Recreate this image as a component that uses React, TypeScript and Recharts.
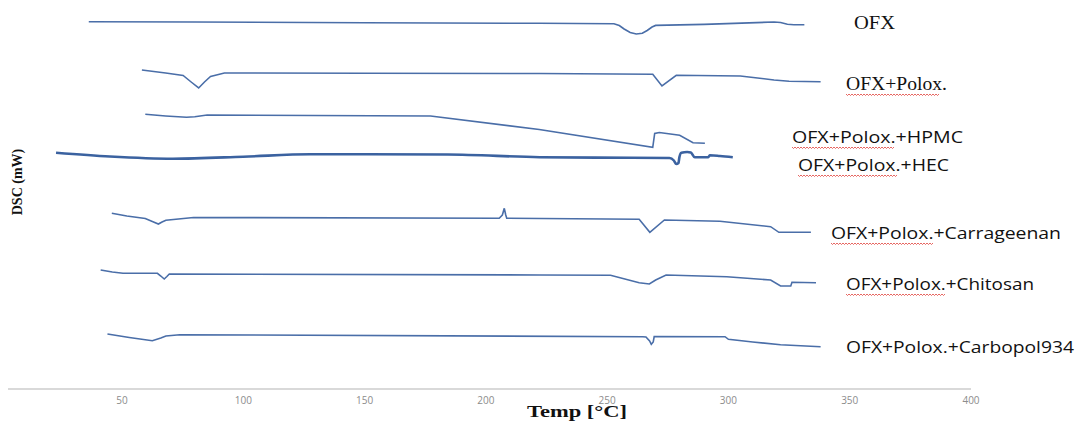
import { LineChart, Line, XAxis, YAxis, Customized } from 'recharts'

// temperature ticks on the x axis
const TEMP_TICKS = [50, 100, 150, 200, 250, 300, 350, 400]

// [temp °C, offset signal], top to bottom
const OFX = [
  [36.3, 367.3], [80, 367], [150, 366.3], [222, 365.7], [252.8, 365.2], [255, 363.5],
  [257, 360], [259.5, 356.5], [262, 355], [264.5, 355.8], [266.5, 358.5], [268.5, 362],
  [270, 363.6], [290, 364.6], [318.8, 367], [321.5, 366.5], [324.3, 364.8], [327, 364.3],
  [331.3, 364.3],
]
const OFX_POLOX = [
  [58.2, 319], [68, 316], [75.2, 313.5], [78.5, 307], [81.6, 301], [84, 307], [86.5, 312.5],
  [92.2, 316], [150, 315.8], [222, 315.5], [268.8, 314.8], [272.6, 303], [278.5, 313.7],
  [304.9, 313], [312, 311], [318.8, 309], [325, 307.8], [338, 307.2],
]
const OFX_HPMC = [
  [59.6, 274.7], [68, 273], [76.6, 271.7], [80, 272.3], [85.1, 274], [177.2, 273],
  [222, 259.5], [268.8, 241.7], [269.6, 255.5], [271.5, 256.5], [279.9, 253.7],
  [285.4, 246.3], [290.3, 245.7],
]
const OFX_HEC = [
  [22.8, 236.3], [45, 232.5], [71, 230.3], [100, 232.3], [127.6, 234.8], [184.3, 234.5],
  [222.2, 231.8], [260, 231.2], [275.7, 231], [277.5, 228.5], [278.5, 225], [279.4, 226],
  [279.8, 232], [280.6, 236.3], [283, 237], [284.5, 236.5], [286.1, 231.7], [291.7, 231.7],
  [292.3, 233.7], [296.5, 233], [301.8, 231.7],
]
const OFX_CARRAGEENAN = [
  [45.8, 175.7], [52, 173], [59.6, 170.5], [62.5, 167.5], [65, 165], [66.5, 167],
  [68.1, 168.8], [79.5, 171.5], [205.5, 170.7], [206.8, 174], [207.6, 180.7], [208.2, 174],
  [208.6, 170.7], [263.2, 169.7], [267.6, 156.7], [273.6, 169], [296.5, 167.7],
  [317.4, 162.3], [320.8, 156.7], [334, 156.7],
]
const OFX_CHITOSAN = [
  [41.2, 119], [46, 117], [50.4, 115.7], [64.6, 115.7], [66, 113], [67.4, 110], [68.5, 112.5],
  [69.5, 115], [222.2, 114], [251.4, 113.7], [263.2, 106.3], [267.4, 105], [270, 109],
  [274.3, 114], [299.3, 112.3], [317.4, 109], [321.5, 103], [325.7, 103], [326.2, 106.7],
  [336.1, 106.3],
]
const OFX_CARBOPOL = [
  [44, 55], [53, 51.5], [62.5, 48.3], [66, 51], [68.1, 53], [73.8, 54.3], [264.6, 52.3],
  [266, 52], [267.5, 48], [268.2, 44.7], [269, 47], [269.4, 52.5], [298.6, 52.3],
  [300, 49.7], [310, 47], [321.5, 44.3], [338, 42.3],
]

const SERIES_NAMES = [
  'OFX',
  'OFX+Polox.',
  'OFX+Polox.+HPMC',
  'OFX+Polox.+HEC',
  'OFX+Polox.+Carrageenan',
  'OFX+Polox.+Chitosan',
  'OFX+Polox.+Carbopol934',
]
const SERIES_DATA = [OFX, OFX_POLOX, OFX_HPMC, OFX_HEC, OFX_CARRAGEENAN, OFX_CHITOSAN, OFX_CARBOPOL]

const LINE = '#4a6ea8'

// where each curve's name sits on the right (px), and the red spell-check squiggle width
const LABEL_LAYOUT = [
  { x: 854, y: 29, w: 41, serif: true, wave: 0 },
  { x: 846, y: 90, w: 101, serif: true, wave: 92 },
  { x: 792, y: 143, w: 171, serif: false, wave: 100 },
  { x: 798, y: 171, w: 151, serif: false, wave: 99 },
  { x: 831, y: 239, w: 230, serif: false, wave: 100 },
  { x: 846, y: 290, w: 188, serif: false, wave: 99 },
  { x: 846, y: 353, w: 228, serif: false, wave: 0 },
]

function wavePath(x: number, y: number, w: number) {
  let d = `M${x},${y}`
  for (let i = 0; i < w; i += 3) d += ` L${x + i + 1.5},${y + 1.5} L${x + i + 3},${y}`
  return d
}

function Overlay() {
  return (
    <g>
      {SERIES_NAMES.map((name, i) => {
        const l = LABEL_LAYOUT[i]
        return (
          <g key={name}>
            <text
              x={l.x}
              y={l.y}
              fontFamily={l.serif ? '"Liberation Serif", serif' : '"Open Sans", sans-serif'}
              fontSize={l.serif ? 18 : 16}
              fill="#111"
              textLength={l.w}
              lengthAdjust="spacingAndGlyphs"
            >
              {name}
            </text>
            {l.wave > 0 && (
              <path d={wavePath(l.x, l.y + 4, l.wave)} stroke="#e0403a" strokeWidth={0.8} fill="none" />
            )}
          </g>
        )
      })}
      <text
        x={22}
        y={182}
        transform="rotate(-90 22 182)"
        textAnchor="middle"
        fontFamily='"Liberation Serif", serif'
        fontWeight="bold"
        fontSize={14}
        fill="#111"
      >
        DSC (mW)
      </text>
      <text
        x={527}
        y={417}
        fontFamily='"Liberation Serif", serif'
        fontWeight="bold"
        fontSize={17}
        fill="#111"
        textLength={100}
        lengthAdjust="spacingAndGlyphs"
      >
        Temp [°C]
      </text>
    </g>
  )
}

export default function App() {
  const series = SERIES_DATA.map((pts) => pts.map(([t, v]) => ({ t, v })))
  return (
    <div style={{ position: 'absolute', left: 0, top: 0, background: '#fff', width: 1078, height: 423 }}>
      <LineChart
        width={1078}
        height={423}
        margin={{ top: 9, right: 107, bottom: 0, left: 8 }}
      >
        <XAxis
          type="number"
          dataKey="t"
          domain={[3, 400]}
          ticks={TEMP_TICKS}
          allowDataOverflow
          axisLine={{ stroke: '#d9d9d9', strokeWidth: 2 }}
          tickLine={false}
          tickSize={6}
          height={34}
          tick={{ fill: '#8c8c8c', fontSize: 10, fontFamily: '"Open Sans", sans-serif' }}
        />
        <YAxis type="number" domain={[0, 380]} hide />
        {series.map((d, i) => (
          <Line
            key={SERIES_NAMES[i]}
            data={d}
            dataKey="v"
            type={i === 3 ? 'monotone' : 'linear'}
            stroke={i === 3 ? '#3b62a0' : LINE}
            strokeWidth={i === 3 ? 2.6 : 1.6}
            dot={false}
            isAnimationActive={false}
          />
        ))}
        <Customized component={Overlay} />
      </LineChart>
    </div>
  )
}
